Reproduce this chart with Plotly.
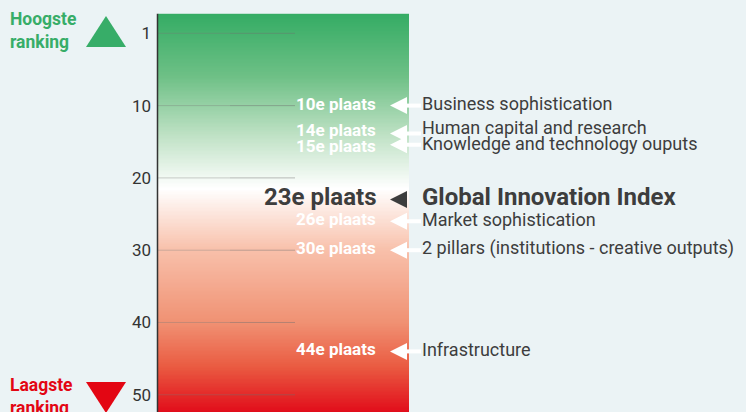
import numpy as np
import plotly.graph_objects as go

# ---- data ----
ranks = [10, 14, 15, 23, 26, 30, 44]
rank_labels = ["10e plaats", "14e plaats", "15e plaats", "23e plaats",
               "26e plaats", "30e plaats", "44e plaats"]
pillars = ["Business sophistication", "Human capital and research",
           "Knowledge and technology ouputs", "Global Innovation Index",
           "Market sophistication", "2 pillars (institutions - creative outputs)",
           "Infrastructure"]
highlight = "Global Innovation Index"
tick_vals = [0, 10, 20, 30, 40, 50]
tick_text = ["1", "10", "20", "30", "40", "50"]
bar_top_rank, bar_bottom_rank = -2.7, 52.6

# ---- styling ----
W, H = 746, 412
BG = "#ebf3f5"
FONT = "Roboto"
DARK = "#3d3d3d"
GREEN = "#37ad68"
RED = "#e30613"
y_range = [52.38, -4.606]
nudge_text = {14: -3, 15: 6}
nudge_desc = {14: -5, 15: 4}
nudge_arrow = {14: -1, 15: 3}
PX_PER_RANK = H / (y_range[0] - y_range[1])

def py(px):
    return 1 - px / H

grad_stops = [(-2.7, (52, 172, 100)), (6, (110, 192, 134)), (14, (190, 225, 196)),
              (21.5, (255, 255, 255)), (30, (248, 192, 170)), (40, (240, 145, 115)),
              (46, (234, 92, 66)), (52.6, (225, 10, 25))]
lo, hi = grad_stops[0][0], grad_stops[-1][0]
colorscale = [[(r - lo) / (hi - lo), "rgb(%d,%d,%d)" % c] for r, c in grad_stops]

edges = np.linspace(bar_top_rank, bar_bottom_rank, 301)
mids = (edges[:-1] + edges[1:]) / 2

fig = go.Figure()
fig.add_trace(go.Heatmap(
    x=[158, 409], y=edges, z=mids.reshape(-1, 1), zmin=lo, zmax=hi,
    colorscale=colorscale, showscale=False, hoverinfo="skip", zsmooth=False,
    xaxis="x", yaxis="y"))

# stems
for r, p in zip(ranks, pillars):
    if p == highlight:
        continue
    rr = r + nudge_arrow.get(r, 0) / PX_PER_RANK
    fig.add_trace(go.Scatter(x=[402, 421], y=[rr, rr], mode="lines",
                             line=dict(color="white", width=4),
                             hoverinfo="skip", showlegend=False))
# arrow heads
for r, p in zip(ranks, pillars):
    rr = r + nudge_arrow.get(r, 0) / PX_PER_RANK
    col = DARK if p == highlight else "white"
    fig.add_trace(go.Scatter(x=[390], y=[rr], mode="markers",
                             marker=dict(symbol="arrow-left", size=17, color=col,
                                         line=dict(width=0)),
                             hoverinfo="skip", showlegend=False))

shapes = []
# grid lines (fading)
for v in tick_vals:
    shapes.append(dict(type="line", xref="x", yref="y", x0=158, x1=230, y0=v, y1=v,
                       line=dict(color="rgba(120,120,120,0.35)", width=1), layer="above"))
    shapes.append(dict(type="line", xref="x", yref="y", x0=230, x1=295, y0=v, y1=v,
                       line=dict(color="rgba(110,110,110,0.45)", width=1), layer="above"))
# axis line
shapes.append(dict(type="line", xref="x", yref="y", x0=157.5, x1=157.5,
                   y0=bar_top_rank, y1=bar_bottom_rank,
                   line=dict(color="#333333", width=1.5), layer="above"))
# legend triangles
shapes.append(dict(type="path", xref="x", yref="paper",
                   path="M 86 %f L 126 %f L 106 %f Z" % (py(47), py(47), py(16)),
                   fillcolor=GREEN, line=dict(width=0)))
shapes.append(dict(type="path", xref="x", yref="paper",
                   path="M 86 %f L 126 %f L 106 %f Z" % (py(382), py(382), py(413)),
                   fillcolor=RED, line=dict(width=0)))

annotations = []
for r, lab, p in zip(ranks, rank_labels, pillars):
    hl = p == highlight
    annotations.append(dict(
        x=378, y=r, xref="x", yref="y", xanchor="right", yanchor="middle",
        text="<b>%s</b>" % lab, showarrow=False,
        yshift=-nudge_text.get(r, 0) + (3 if hl else 2),
        font=dict(family=FONT, size=24 if hl else 17, color=DARK if hl else "white")))
    annotations.append(dict(
        x=420, y=r, xref="x", yref="y", xanchor="left", yanchor="middle",
        text=("<b>%s</b>" % p) if hl else p, showarrow=False,
        yshift=-nudge_desc.get(r, 0) + (3 if hl else 2),
        font=dict(family=FONT, size=24 if hl else 18, color=DARK)))

annotations.append(dict(x=8, y=py(31), xref="x", yref="paper", xanchor="left",
                        yanchor="middle", align="left", showarrow=False,
                        text="<b>Hoogste<br>ranking</b>",
                        font=dict(family=FONT, size=17.5, color=GREEN)))
annotations.append(dict(x=8, y=py(396), xref="x", yref="paper", xanchor="left",
                        yanchor="middle", align="left", showarrow=False,
                        text="<b>Laagste<br>ranking</b>",
                        font=dict(family=FONT, size=17.5, color=RED)))

fig.update_layout(
    width=W, height=H, margin=dict(l=0, r=0, t=0, b=0),
    paper_bgcolor=BG, plot_bgcolor=BG, showlegend=False,
    xaxis=dict(range=[0, W], domain=[0, 1], visible=False, fixedrange=True),
    yaxis=dict(range=y_range, domain=[0, 1], anchor="free", position=158 / W,
               tickvals=tick_vals, ticktext=tick_text, showgrid=False, zeroline=False,
               showline=False, ticks="", ticklabelstandoff=7, fixedrange=True,
               tickfont=dict(family=FONT, size=17, color="#333333")),
    shapes=shapes, annotations=annotations,
)
fig.write_html("out.html", config={"displayModeBar": False},
               post_script="document.body.style.margin='0';document.body.style.background='%s';" % BG)
